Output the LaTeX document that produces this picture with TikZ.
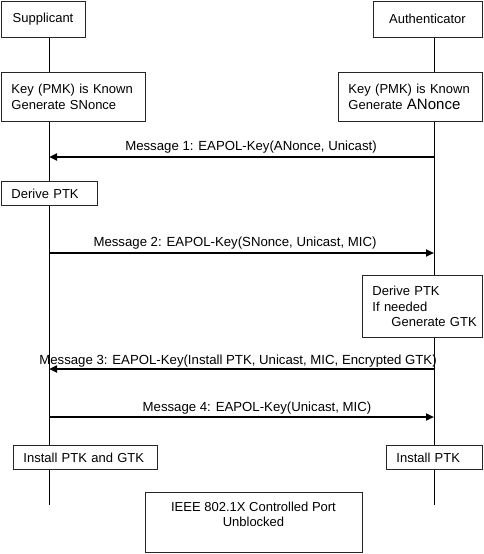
\documentclass[tikz,border=0pt]{standalone}
\usepackage{fontspec}
\setmainfont{Liberation Sans}
\usetikzlibrary{arrows.meta,backgrounds}

\tikzset{
	box/.style={draw=black!85, fill=white, line width=0.9pt, inner sep=0pt, font=\fontsize{13}{15.5}\selectfont},
	cbox/.style={box, align=center},
	lbox/.style={box, align=left, inner xsep=10pt, anchor=north west},
	life/.style={line width=1pt},
	msg/.style={line width=2pt, -{Triangle[length=8pt,width=7pt]}},
	lbl/.style={inner sep=0pt, font=\fontsize{13.2}{14}\selectfont}
}

\begin{document}
\begin{tikzpicture}[x=1pt, y=-1pt]
	\useasboundingbox (0,0) rectangle (483,554);
	% parties
	\node[cbox, minimum width=84pt, minimum height=36pt] (sup) at (43,19) {Supplicant};
	\node[cbox, minimum width=109pt, minimum height=36pt] (auth) at (427.5,19) {Authenticator};
	% local steps
	\node[lbox, text width=124pt, minimum height=49pt] (supkey) at (1,72) {Key (PMK) is Known\\Generate SNonce};
	\node[lbox, text width=124pt, minimum height=49pt] (authkey) at (338,72) {Key (PMK) is Known\\Generate {\fontsize{15}{15.5}\selectfont ANonce}};
	\node[lbox, text width=76pt, minimum height=24pt] (supptk) at (1,181) {Derive PTK};
	\node[lbox, text width=100pt, minimum height=62pt] (authptk) at (362,275) {Derive PTK\\If needed\\\hspace*{19pt}\mbox{Generate GTK}};
	\node[lbox, text width=124pt, minimum height=24pt] (supinst) at (13,445) {Install PTK and GTK};
	\node[lbox, text width=76pt, minimum height=24pt] (authinst) at (386,445) {Install PTK};
	\node[cbox, minimum width=217pt, minimum height=60pt] (port) at (253.5,522) {IEEE 802.1X Controlled Port\\Unblocked\\\mbox{}};
	% lifelines
	\coordinate (suptop) at (49,37);
	\coordinate (supend) at (49,505);
	\coordinate (authtop) at (434,37);
	\coordinate (authend) at (434,505);
	\begin{scope}[on background layer]
		\draw[life] (suptop) -- (supend);
		\draw[life] (authtop) -- (authend);
	\end{scope}
	% messages
	\foreach \n/\y in {1/157,2/253,3/369,4/417} {
		\coordinate (s\n) at (49,\y);
		\coordinate (a\n) at (434,\y);
	}
	\draw[msg] (a1) -- (s1);
	\draw[msg] (s2) -- (a2);
	\draw[msg] (a3) -- (s3);
	\draw[msg] (s4) -- (a4);
	\node[lbl] (msg1) at (251,147) {Message 1: EAPOL-Key(ANonce, Unicast)};
	\node[lbl] (msg2) at (235,243) {Message 2: EAPOL-Key(SNonce, Unicast, MIC)};
	\node[lbl] (msg3) at (238,361) {Message 3: EAPOL-Key(Install PTK, Unicast, MIC, Encrypted GTK)};
	\node[lbl] (msg4) at (257,408) {Message 4: EAPOL-Key(Unicast, MIC)};
\end{tikzpicture}
\end{document}
